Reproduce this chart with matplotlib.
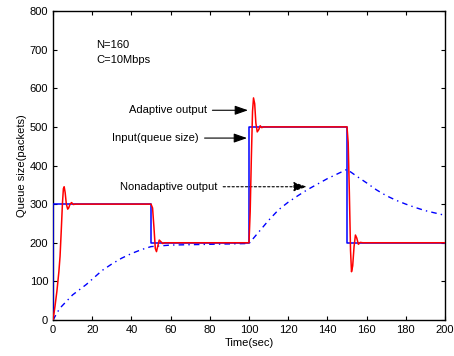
import matplotlib
matplotlib.use("Agg")
import matplotlib.pyplot as plt

plt.rcParams['font.family'] = ['Liberation Sans', 'DejaVu Sans']

# Input (queue size reference), step signal
input_t = [0, 0, 50, 50, 100, 100, 150, 150, 200]
input_q = [0, 300, 300, 200, 200, 500, 500, 200, 200]

# Adaptive output
adapt_t = [0, 1, 2, 3, 3.6, 4.2, 4.8, 5.3, 5.7, 6.2, 6.8, 7.5, 8.0, 8.7, 9.5, 10.3, 11.5, 12,
           50, 50.8, 51.5, 52.2, 52.8, 53.5, 54.2, 55.0, 56.0, 57.0,
           100, 100.6, 101.2, 101.8, 102.3, 102.9, 103.5, 104.2, 105.0, 105.7, 106.5, 107.5,
           150, 150.6, 151.2, 151.8, 152.3, 152.9, 153.6, 154.3, 155.0, 155.8, 156.8, 158, 200]
adapt_q = [0, 35, 75, 125, 165, 230, 300, 340, 345, 330, 300, 287, 290, 300, 304, 299, 300, 300,
           300, 290, 240, 185, 177, 192, 207, 203, 198, 200,
           200, 280, 420, 540, 575, 560, 510, 487, 493, 503, 498, 500,
           500, 460, 330, 180, 125, 140, 190, 220, 212, 196, 201, 200, 200]

# Nonadaptive output
nonad_t = [0, 3.4, 10, 17, 25, 30, 35, 40, 45, 50, 55, 60, 70, 80, 90, 100,
           105, 110, 115, 120, 125, 130, 135, 140, 145, 150,
           155, 160, 165, 170, 175, 180, 185, 190, 195, 200]
nonad_q = [0, 30, 65, 92, 128, 145, 160, 172, 182, 190, 192, 194, 195, 196, 197, 198,
           228, 258, 285, 305, 322, 338, 352, 366, 378, 390,
           372, 355, 337, 322, 310, 300, 291, 283, 277, 271]

xticks = [0, 20, 40, 60, 80, 100, 120, 140, 160, 180, 200]
yticks = [0, 100, 200, 300, 400, 500, 600, 700, 800]

fig = plt.figure(figsize=(4.54, 3.56), dpi=100)
ax = fig.add_axes([53/454, 36/356, 392/454, 309/356])

ax.plot(input_t, input_q, color='blue', lw=1.1, zorder=3)
ax.plot(adapt_t, adapt_q, color='red', lw=1.1, zorder=4)
ax.plot(nonad_t, nonad_q, color='blue', lw=1.0, linestyle=(0, (4, 3, 1, 3)), zorder=2)

ax.set_xlim(0, 200)
ax.set_ylim(0, 800)
ax.set_xticks(xticks)
ax.set_yticks(yticks)
ax.tick_params(direction='in', top=True, right=True, labelsize=8, length=3, width=0.8)
for s in ax.spines.values():
    s.set_linewidth(1.0)

ax.set_xlabel('Time(sec)', fontsize=8, labelpad=2)
ax.set_ylabel('Queue size(packets)', fontsize=8, labelpad=2)

ax.text(22, 713, 'N=160', fontsize=8, va='center', ha='left')
ax.text(22, 674, 'C=10Mbps', fontsize=8, va='center', ha='left')

arrow = dict(arrowstyle='-|>,head_length=1.0,head_width=0.35', color='black', lw=0.8,
             shrinkA=2, shrinkB=0)
ax.annotate('Adaptive output', xy=(99.5, 543), xytext=(78.5, 543), fontsize=8,
            va='center', ha='right', arrowprops=arrow)
ax.annotate('Input(queue size)', xy=(99, 471), xytext=(74.5, 471), fontsize=8,
            va='center', ha='right', arrowprops=arrow)
arrow2 = dict(arrowstyle='-|>,head_length=1.0,head_width=0.35', color='black', lw=0.8,
              linestyle=(0, (2, 2)), shrinkA=2, shrinkB=0)
ax.annotate('Nonadaptive output', xy=(129.5, 345), xytext=(84, 345), fontsize=8,
            va='center', ha='right', arrowprops=arrow2)

fig.savefig('out.png', dpi=100)
